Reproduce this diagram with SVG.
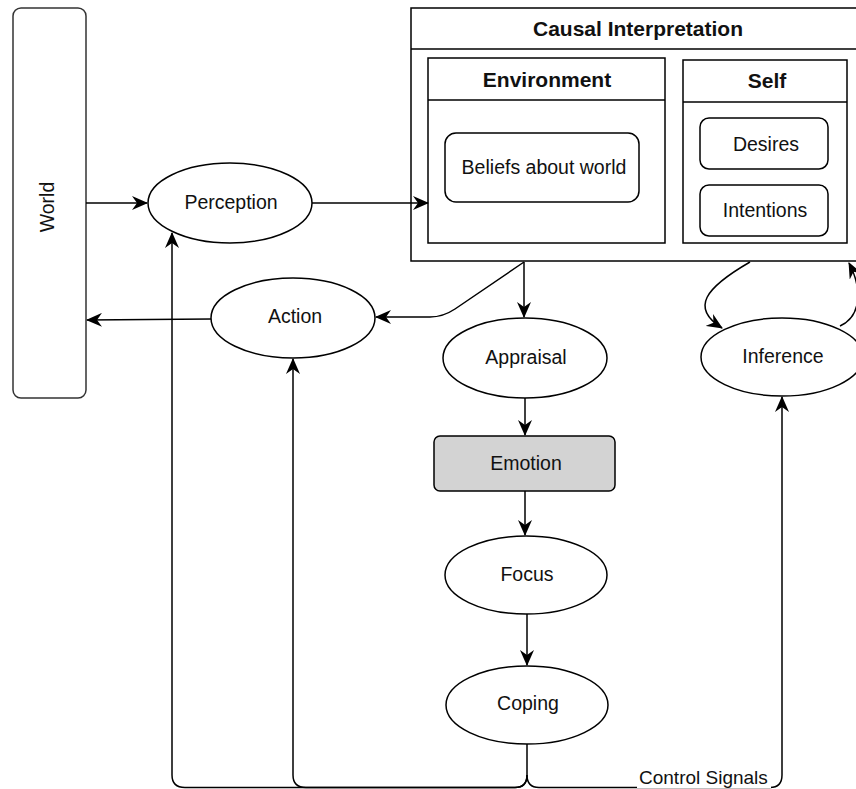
<svg xmlns="http://www.w3.org/2000/svg" width="856" height="789" viewBox="0 0 856 789">
  <defs>
    <style>
      .shape { fill: #ffffff; stroke: #000000; stroke-width: 1.5; }
      .world { fill: #ffffff; stroke: #333333; stroke-width: 1.5; }
      .emotion { fill: #d3d3d3; stroke: #000000; stroke-width: 1.5; }
      .edge { fill: none; stroke: #000000; stroke-width: 1.5; }
      .lbl { font-family: "Liberation Sans", Arial, sans-serif; font-size: 19.5px; fill: #111111; text-anchor: middle; }
      .hdr { font-family: "Liberation Sans", Arial, sans-serif; font-size: 21px; font-weight: bold; fill: #111111; text-anchor: middle; }
      .elbl { font-family: "Liberation Sans", Arial, sans-serif; font-size: 19px; fill: #111111; }
    </style>
    <marker id="arrow" viewBox="0 0 16 14" refX="15" refY="7" markerWidth="16" markerHeight="14" markerUnits="userSpaceOnUse" orient="auto">
      <path d="M0,0 L16,7 L0,14 L5,7 Z" fill="#000000"/>
    </marker>
  </defs>

  <rect width="856" height="789" fill="#ffffff"/>

  <!-- World -->
  <g id="world">
    <rect class="world" x="13" y="8" width="73" height="390" rx="8"/>
    <text class="lbl" transform="translate(54 207) rotate(-90)" x="0" y="0">World</text>
  </g>

  <!-- Perception -->
  <g id="perception">
    <ellipse class="shape" cx="230" cy="203" rx="82" ry="40"/>
    <text class="lbl" x="231" y="209">Perception</text>
  </g>

  <!-- Action -->
  <g id="action">
    <ellipse class="shape" cx="293" cy="318" rx="82" ry="40"/>
    <text class="lbl" x="295" y="323">Action</text>
  </g>

  <!-- Causal Interpretation container -->
  <g id="causal-interpretation">
    <rect class="shape" x="411" y="8" width="460" height="253"/>
    <line class="edge" x1="411" y1="49" x2="871" y2="49"/>
    <text class="hdr" x="638" y="36">Causal Interpretation</text>
  </g>

  <!-- Environment -->
  <g id="environment">
    <rect class="shape" x="428" y="58" width="237" height="185"/>
    <line class="edge" x1="428" y1="100" x2="665" y2="100"/>
    <text class="hdr" x="547" y="87">Environment</text>
  </g>

  <!-- Beliefs about world -->
  <g id="beliefs">
    <rect class="shape" x="445" y="133" width="194" height="69" rx="11"/>
    <text class="lbl" x="544" y="174">Beliefs about world</text>
  </g>

  <!-- Self -->
  <g id="self">
    <rect class="shape" x="683" y="60" width="164" height="183"/>
    <line class="edge" x1="683" y1="102" x2="847" y2="102"/>
    <text class="hdr" x="767" y="88">Self</text>
  </g>

  <!-- Desires -->
  <g id="desires">
    <rect class="shape" x="700" y="118" width="128" height="51" rx="9"/>
    <text class="lbl" x="766" y="151">Desires</text>
  </g>

  <!-- Intentions -->
  <g id="intentions">
    <rect class="shape" x="700" y="185" width="128" height="51" rx="9"/>
    <text class="lbl" x="765" y="217">Intentions</text>
  </g>

  <!-- Appraisal -->
  <g id="appraisal">
    <ellipse class="shape" cx="525" cy="358" rx="82" ry="40"/>
    <text class="lbl" x="526" y="364">Appraisal</text>
  </g>

  <!-- Inference -->
  <g id="inference">
    <ellipse class="shape" cx="782" cy="357" rx="81" ry="39"/>
    <text class="lbl" x="783" y="363">Inference</text>
  </g>

  <!-- Emotion -->
  <g id="emotion">
    <rect class="emotion" x="434" y="436" width="181" height="55" rx="6"/>
    <text class="lbl" x="526" y="470">Emotion</text>
  </g>

  <!-- Focus -->
  <g id="focus">
    <ellipse class="shape" cx="526" cy="575" rx="81" ry="39"/>
    <text class="lbl" x="527" y="581">Focus</text>
  </g>

  <!-- Coping -->
  <g id="coping">
    <ellipse class="shape" cx="527" cy="705" rx="81" ry="39"/>
    <text class="lbl" x="528" y="710">Coping</text>
  </g>

  <!-- connectors -->
  <g id="connectors">
    <!-- World to Perception -->
    <path class="edge" d="M86 203 L147 203" marker-end="url(#arrow)"/>
    <!-- Perception to Environment -->
    <path class="edge" d="M312 203 L428 203" marker-end="url(#arrow)"/>
    <!-- Action to World -->
    <path class="edge" d="M211 319 L87 320" marker-end="url(#arrow)"/>
    <!-- Causal Interpretation to Appraisal -->
    <path class="edge" d="M524 262 L524 317" marker-end="url(#arrow)"/>
    <!-- Causal Interpretation to Action -->
    <path class="edge" d="M524 262 L455 309 Q443 317 430 317 L376 317" marker-end="url(#arrow)"/>
    <!-- Appraisal to Emotion -->
    <path class="edge" d="M525 398 L525 435" marker-end="url(#arrow)"/>
    <!-- Emotion to Focus -->
    <path class="edge" d="M525 491 L525 535" marker-end="url(#arrow)"/>
    <!-- Focus to Coping -->
    <path class="edge" d="M527 614 L527 665" marker-end="url(#arrow)"/>
    <!-- Causal Interpretation to Inference -->
    <path class="edge" d="M750 262 C705 288 690 308 722 328" marker-end="url(#arrow)"/>
    <!-- Inference back to Causal Interpretation -->
    <path class="edge" d="M840 326 C862 316 862 288 849 263" marker-end="url(#arrow)"/>
    <!-- Control signals from Coping -->
    <path class="edge" d="M527 744 L527 775 Q527 787.5 515 787.5 L185 787.5 Q172 787.5 172 775 L172 233" marker-end="url(#arrow)"/>
    <path class="edge" d="M527 775 Q527 787.5 515 787.5 L306 787.5 Q293 787.5 293 775 L293 359" marker-end="url(#arrow)"/>
    <path class="edge" d="M527 775 Q527 787.5 539 787.5 L770 787.5 Q782 787.5 782 775 L782 397" marker-end="url(#arrow)"/>
    <rect x="637" y="765" width="134" height="23" fill="#ffffff"/>
    <text class="elbl" x="639" y="784">Control Signals</text>
  </g>
</svg>
